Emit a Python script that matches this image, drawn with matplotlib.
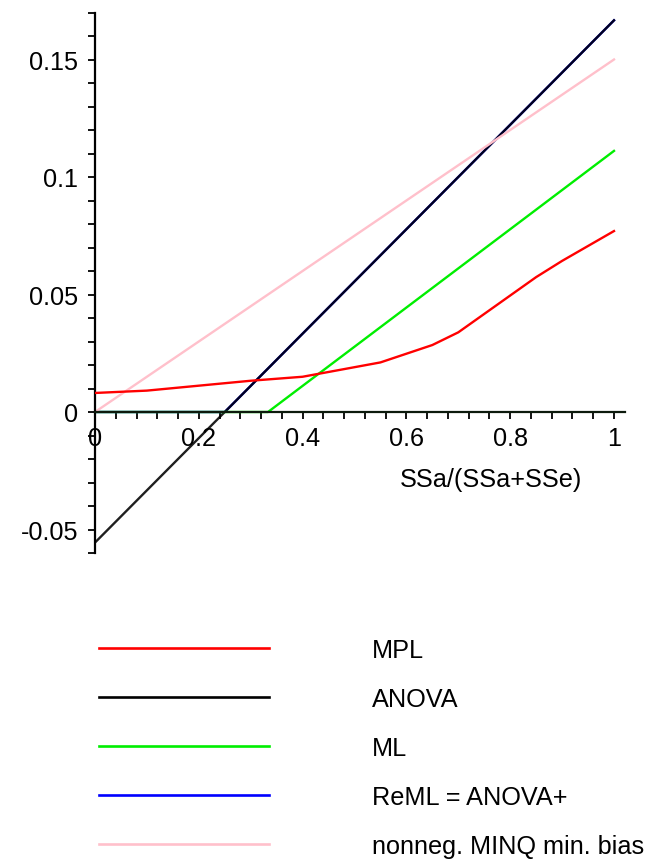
import matplotlib
matplotlib.use("Agg")
import matplotlib.pyplot as plt
import numpy as np
from matplotlib.ticker import MultipleLocator, FixedLocator
from matplotlib.lines import Line2D

plt.rcParams['font.family'] = ['Liberation Sans', 'DejaVu Sans']

# data
x_lin = [0.0, 0.25, 1.0]
anova = [-1/18, 0.0, 1/6]
reml_x = [0.0, 0.25, 1.0]
reml = [0.0, 0.0, 1/6]
ml_x = [0.0, 1/3, 1.0]
ml = [0.0, 0.0, 1/9]
minq_x = [0.0, 1.0]
minq = [0.0, 0.15]
mpl_x = [0.0, 0.1, 0.2, 0.3, 0.4, 0.55, 0.65, 0.7, 0.85, 0.9, 1.0]
mpl_y = [0.0081, 0.0091, 0.0112, 0.0133, 0.0150, 0.0211, 0.0285, 0.0339, 0.0574, 0.0643, 0.077]

labels = ["MPL", "ANOVA", "ML", "ReML = ANOVA+", "nonneg. MINQ min. bias"]
colors = ["#ff0000", "#000000", "#00ee00", "#0000ff", "#ffc0cb"]
xtick_vals = [0, 0.2, 0.4, 0.6, 0.8, 1.0]
xtick_labels = ["0", "0.2", "0.4", "0.6", "0.8", "1"]
ytick_vals = [-0.05, 0, 0.05, 0.1, 0.15]
ytick_labels = ["-0.05", "0", "0.05", "0.1", "0.15"]

FS = 18.2
W, H = 663, 862
fig = plt.figure(figsize=(W/100, H/100), dpi=100)
x0px, x1px = 95, 614
xmax = 1.022
ymin, ymax = -0.06, 0.17
y0px = 413
ppy = 2350
top_px = y0px - ymax*ppy
bot_px = y0px - ymin*ppy
ax = fig.add_axes([x0px/W, 1 - bot_px/H, (x1px - x0px)*xmax/W, (bot_px - top_px)/H])
ax.set_xlim(0, xmax)
ax.set_ylim(ymin, ymax)

lw = 1.7
ax.plot(mpl_x, mpl_y, color=colors[0], lw=lw, zorder=5)
ax.plot(reml_x, reml, color=colors[3], lw=lw, zorder=3)
ax.plot(x_lin, anova, color=colors[1], lw=lw, alpha=0.88, zorder=4)
ax.plot(ml_x, ml, color=colors[2], lw=lw, zorder=4)
ax.plot(minq_x, minq, color=colors[4], lw=lw, zorder=4)

for s in ['top', 'right']:
    ax.spines[s].set_visible(False)
ax.spines['left'].set_position(('data', 0))
ax.spines['bottom'].set_position(('data', 0))
ax.spines['left'].set_linewidth(1.6)
ax.spines['bottom'].set_linewidth(1.6)
ax.spines['bottom'].set_zorder(4.5)
ax.spines['bottom'].set_color('#0c1a0c')
ax.spines['left'].set_zorder(4.5)

ax.xaxis.set_major_locator(FixedLocator(xtick_vals))
ax.set_xticklabels(xtick_labels)
ax.xaxis.set_minor_locator(MultipleLocator(0.04))
ax.yaxis.set_major_locator(FixedLocator(ytick_vals))
ax.set_yticklabels(ytick_labels)
ax.yaxis.set_minor_locator(MultipleLocator(0.01))
ax.tick_params(axis='both', which='both', direction='out', length=5, width=1.3, labelsize=FS)
ax.tick_params(axis='x', pad=5)
ax.tick_params(axis='y', pad=7)

ax.text(0.763, -0.0285, "SSa/(SSa+SSe)", fontsize=FS, ha='center', va='center')

hh = [Line2D([], [], color=c, lw=1.9) for c in colors]
fig.legend(hh, labels, loc='upper left', bbox_to_anchor=(99/W, 1 - 639/H),
           frameon=False, fontsize=FS, handlelength=6.72, handletextpad=4.07,
           labelspacing=0.99, borderaxespad=0, borderpad=0)

fig.savefig("out.png", dpi=100)
